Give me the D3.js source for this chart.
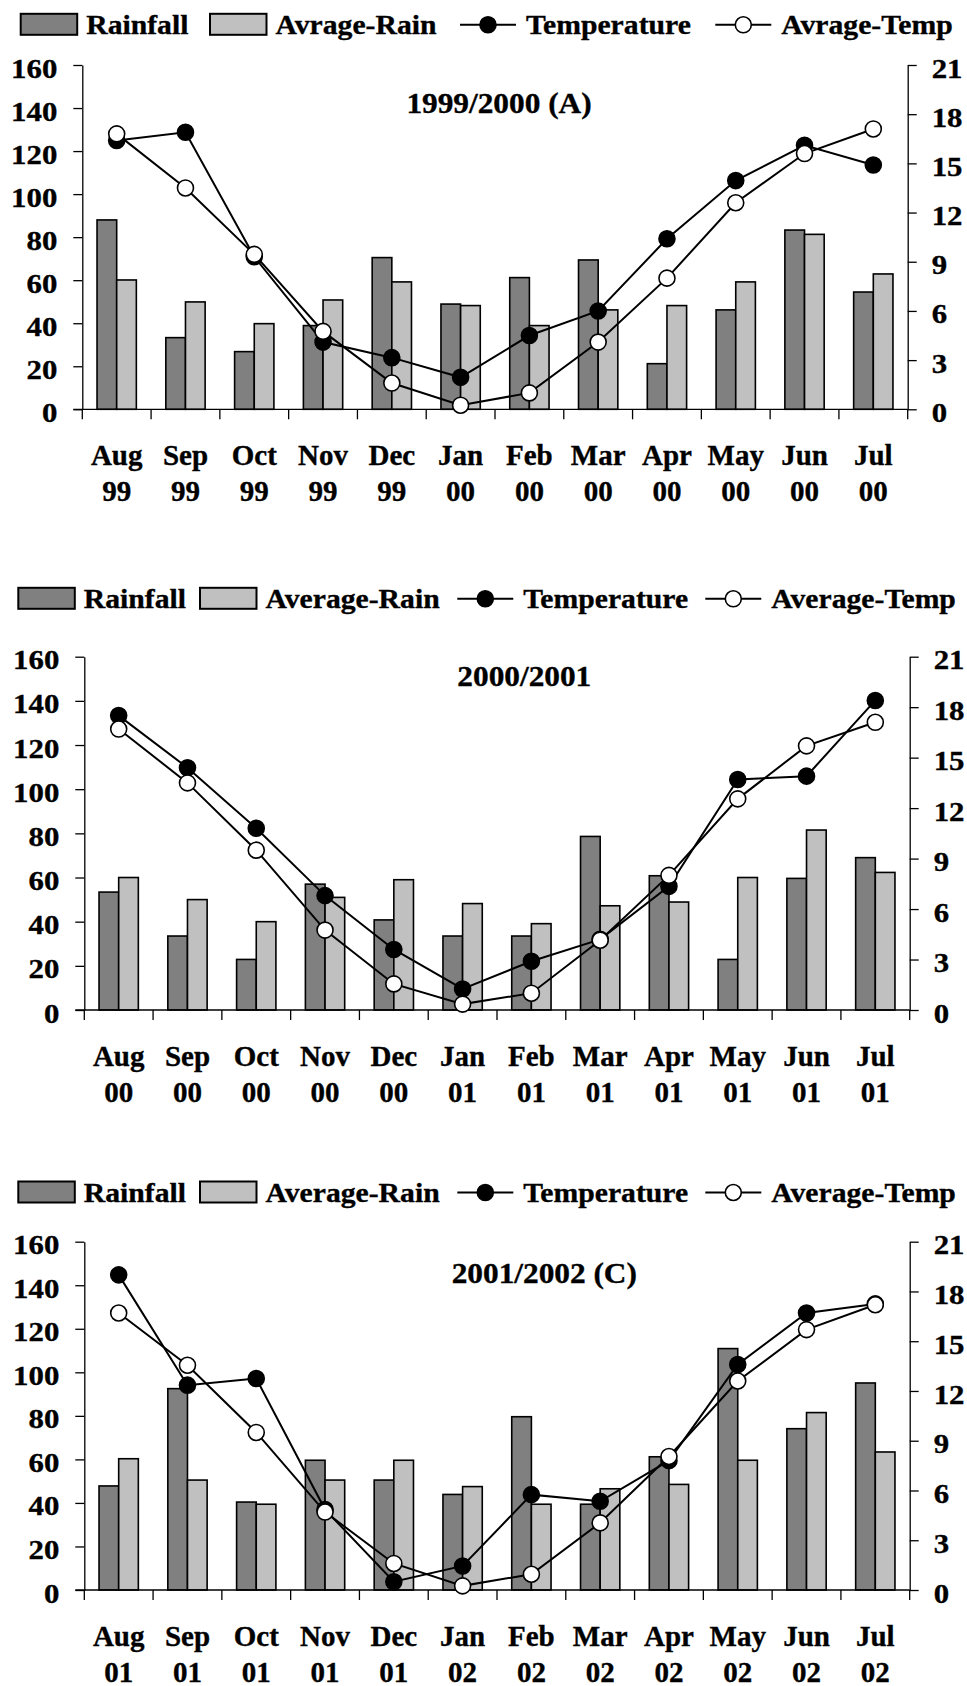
<!DOCTYPE html>
<html>
<head>
<meta charset="utf-8">
<script src="https://cdn.jsdelivr.net/npm/d3@7"></script>
<style>
  body { margin: 0; background: #fff; }
  svg text { font-family: "Liberation Serif", "Times New Roman", serif; font-weight: bold; fill: #000;
             stroke: #000; stroke-width: 0.35px; }
</style>
</head>
<body>
<svg id="chart" width="967" height="1686"></svg>
<script>
// ---- data ---------------------------------------------------------------
const months = ["Aug", "Sep", "Oct", "Nov", "Dec", "Jan", "Feb", "Mar", "Apr", "May", "Jun", "Jul"];
const years9900 = ["99", "99", "99", "99", "99", "00", "00", "00", "00", "00", "00", "00"];
const years0001 = ["00", "00", "00", "00", "00", "01", "01", "01", "01", "01", "01", "01"];
const years0102 = ["01", "01", "01", "01", "01", "02", "02", "02", "02", "02", "02", "02"];

const rainTicks = [0, 20, 40, 60, 80, 100, 120, 140, 160];
const tempTicks = [0, 3, 6, 9, 12, 15, 18, 21];

// 1999/2000 (A)
const rain9900    = [88, 33.3, 26.8, 38.9, 70.5, 48.9, 61.2, 69.4, 21.2, 46.2, 83.3, 54.5];
const avgRain9900 = [60.1, 49.9, 39.8, 50.8, 59.2, 48.2, 38.9, 46.2, 48.2, 59.2, 81.3, 62.9];
const temp9900    = [16.4, 16.9, 9.3, 4.1, 3.15, 1.95, 4.5, 6.0, 10.4, 13.95, 16.1, 14.9];
const avgTemp9900 = [16.8, 13.5, 9.45, 4.75, 1.6, 0.25, 1.0, 4.1, 8.0, 12.6, 15.6, 17.1];

// 2000/2001
const rain0001    = [53.4, 33.5, 22.9, 57, 40.8, 33.5, 33.5, 78.6, 60.8, 22.9, 59.6, 69];
const avgRain0001 = [60, 50, 40, 51, 59, 48.2, 39.1, 47.2, 48.9, 60, 81.5, 62.3];
const temp0001    = [17.5, 14.4, 10.8, 6.8, 3.6, 1.25, 2.9, 4.2, 7.35, 13.7, 13.9, 18.4];
const avgTemp0001 = [16.7, 13.5, 9.5, 4.75, 1.55, 0.35, 1.0, 4.15, 8.0, 12.55, 15.7, 17.1];

// 2001/2002 (C)
const rain0102    = [47.8, 92.5, 40.4, 59.6, 50.5, 43.9, 79.6, 39.4, 61.2, 110.9, 74.1, 95.1];
const avgRain0102 = [60.3, 50.5, 39.4, 50.5, 59.6, 47.5, 39.4, 46.5, 48.5, 59.6, 81.5, 63.4];
const temp0102    = [19.0, 12.35, 12.75, 4.85, 0.5, 1.45, 5.75, 5.35, 7.8, 13.6, 16.7, 17.25];
const avgTemp0102 = [16.7, 13.55, 9.5, 4.7, 1.6, 0.25, 0.95, 4.05, 8.05, 12.6, 15.7, 17.2];

// ---- panels: data + layout ----------------------------------------------
const panels = [
  {
    title: "1999/2000 (A)", years: years9900,
    rain: rain9900, avgRain: avgRain9900, temp: temp9900, avgTemp: avgTemp9900,
    names: ["Rainfall", "Avrage-Rain", "Temperature", "Avrage-Temp"],
    top: 65, bottom: 409.3, left: 82.3, right: 907.7,
    titleX: 499, titleY: 112.5,
    legendBase: 34.3, legendX: [20.7, 210, 460, 715.3]
  },
  {
    title: "2000/2001", years: years0001,
    rain: rain0001, avgRain: avgRain0001, temp: temp0001, avgTemp: avgTemp0001,
    names: ["Rainfall", "Average-Rain", "Temperature", "Average-Temp"],
    top: 656.7, bottom: 1010, left: 84.3, right: 909.7,
    titleX: 524.3, titleY: 686,
    legendBase: 608.3, legendX: [18.3, 200, 457.3, 705.3]
  },
  {
    title: "2001/2002 (C)", years: years0102,
    rain: rain0102, avgRain: avgRain0102, temp: temp0102, avgTemp: avgTemp0102,
    names: ["Rainfall", "Average-Rain", "Temperature", "Average-Temp"],
    top: 1241.7, bottom: 1590, left: 84.3, right: 909.7,
    titleX: 544.3, titleY: 1283.3,
    legendBase: 1202, legendX: [18.3, 200, 457.3, 705.3]
  }
];

const DARK = "#808080", LIGHT = "#c0c0c0";
const svg = d3.select("#chart");

// wide bold serif: place text at (x, y) and stretch it horizontally
function wideText(sel, x, y, sx) {
  return sel.attr("x", 0).attr("y", 0).attr("transform", `translate(${x},${y}) scale(${sx},1)`);
}

panels.forEach(p => {
  const g = svg.append("g");

  const x = d3.scaleBand().domain(months).range([p.left, p.right]).padding(0);
  const yR = d3.scaleLinear().domain([0, 160]).range([p.bottom, p.top]);
  const yT = d3.scaleLinear().domain([0, 21]).range([p.bottom, p.top]);
  const barW = x.bandwidth() / 3.5;
  const mid = m => x(m) + x.bandwidth() / 2;

  // ---- bars
  const bars = g.append("g");
  bars.selectAll("rect.rain").data(months).join("rect")
    .attr("x", m => x(m) + 0.75 * barW)
    .attr("y", (m, i) => yR(p.rain[i]))
    .attr("width", barW)
    .attr("height", (m, i) => yR(0) - yR(p.rain[i]))
    .attr("fill", DARK).attr("stroke", "#000").attr("stroke-width", 1.6);
  bars.selectAll("rect.avg").data(months).join("rect")
    .attr("x", m => x(m) + 1.75 * barW)
    .attr("y", (m, i) => yR(p.avgRain[i]))
    .attr("width", barW)
    .attr("height", (m, i) => yR(0) - yR(p.avgRain[i]))
    .attr("fill", LIGHT).attr("stroke", "#000").attr("stroke-width", 1.6);

  // ---- value axes
  const left = g.append("g").attr("transform", `translate(${p.left},0)`)
    .call(d3.axisLeft(yR).tickValues(rainTicks).tickSize(9).tickSizeOuter(0).tickPadding(16));
  const right = g.append("g").attr("transform", `translate(${p.right},0)`)
    .call(d3.axisRight(yT).tickValues(tempTicks).tickSize(9).tickSizeOuter(0).tickPadding(15));
  [[left, -25], [right, 24]].forEach(([a, tx]) => {
    a.select(".domain").attr("stroke", "#000").attr("stroke-width", 1.3);
    a.selectAll(".tick line").attr("stroke", "#000").attr("stroke-width", 1.3);
    a.selectAll(".tick text").attr("font-size", 28).attr("dy", "0.43em")
      .attr("font-family", null).style("font-family", "'Liberation Serif', serif")
      .each(function () { wideText(d3.select(this), tx, 0, 1.1); });
  });

  // ---- category axis: boundaries + two-line labels
  const bottom = g.append("g").attr("transform", `translate(0,${p.bottom})`)
    .call(d3.axisBottom(x).tickSize(0).tickSizeOuter(0).tickPadding(0));
  bottom.select(".domain").attr("stroke", "#000").attr("stroke-width", 1.3)
    .attr("d", `M${p.left - 9},0H${p.right}`);
  bottom.selectAll(".tick text").each(function (m, i) {
    const t = d3.select(this).text(null).attr("y", 0).attr("dy", null)
      .attr("font-size", 29).style("font-family", "'Liberation Serif', serif");
    t.append("tspan").attr("x", 0).attr("y", 55.5).text(m);
    t.append("tspan").attr("x", 0).attr("y", 91.5).text(p.years[i]);
  });
  const bounds = months.map(m => x(m)).concat([p.right]);
  bottom.selectAll("line.bound").data(bounds).join("line")
    .attr("x1", d => d).attr("x2", d => d).attr("y1", 0).attr("y2", 10)
    .attr("stroke", "#000").attr("stroke-width", 1.3);

  // ---- temperature series (line, then markers)
  const line = vals => d3.line().x(m => mid(m)).y((m, i) => yT(vals[i]))(months);

  [[p.temp, "#000"], [p.avgTemp, "#fff"]].forEach(([vals, fill]) => {
    g.append("path").attr("d", line(vals))
      .attr("fill", "none").attr("stroke", "#000").attr("stroke-width", 2);
    g.append("g").selectAll("circle").data(months).join("circle")
      .attr("cx", m => mid(m))
      .attr("cy", (m, i) => yT(vals[i]))
      .attr("r", 8).attr("fill", fill).attr("stroke", "#000").attr("stroke-width", 1.6);
  });

  // ---- title
  wideText(g.append("text"), p.titleX, p.titleY, 1.08)
    .attr("text-anchor", "middle").attr("font-size", 29).text(p.title);

  // ---- legend
  const lg = g.append("g");
  const b = p.legendBase;
  [[DARK, 0], [LIGHT, 1]].forEach(([fill, k]) => {
    const lx = p.legendX[k];
    lg.append("rect").attr("x", lx).attr("y", b - 20.5).attr("width", 56.5).attr("height", 21)
      .attr("fill", fill).attr("stroke", "#000").attr("stroke-width", 2);
    wideText(lg.append("text"), lx + 65.5, b, 1.06).attr("font-size", 28).text(p.names[k]);
  });
  [["#000", 2], ["#fff", 3]].forEach(([fill, k]) => {
    const lx = p.legendX[k];
    const cy = b - 9.5;
    lg.append("line").attr("x1", lx).attr("x2", lx + 56).attr("y1", cy).attr("y2", cy)
      .attr("stroke", "#000").attr("stroke-width", 2);
    lg.append("circle").attr("cx", lx + 28).attr("cy", cy).attr("r", 8)
      .attr("fill", fill).attr("stroke", "#000").attr("stroke-width", 1.6);
    wideText(lg.append("text"), lx + 66, b, 1.06).attr("font-size", 28).text(p.names[k]);
  });
});
</script>
</body>
</html>
